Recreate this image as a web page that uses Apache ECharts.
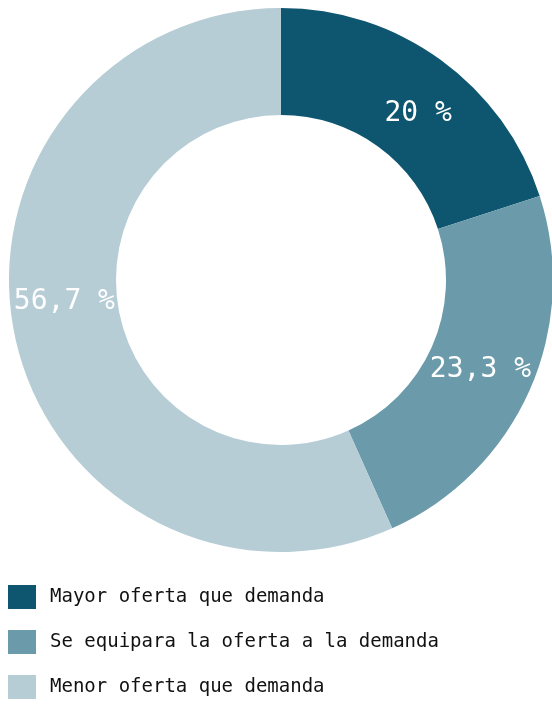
<!DOCTYPE html>
<html>
<head>
    <meta charset="utf-8">
    <title>Oferta y demanda</title>
    <script src="https://cdn.jsdelivr.net/npm/echarts@6/dist/echarts.min.js"></script>
</head>
<body style="margin:0">
<div id="container" style="width: 552px;height: 706px;"></div>

<script type="text/javascript">
    // categorias
    var names = ['Mayor oferta que demanda', 'Se equipara la oferta a la demanda', 'Menor oferta que demanda'];
    // porcentajes
    var values = [20, 23.3, 56.7];
    var colors = ['#0e566f', '#6b9bab', '#b6cdd6'];
    // pequeño ajuste de las etiquetas
    var labelOffsets = [[7, 13], [-3, 0], [0, -25]];

    var myChart = echarts.init(document.getElementById('container'));
    var fontMono = '"DejaVu Sans Mono", "Liberation Mono", monospace';

    var option = {
        animation: false,
        color: colors,
        legend: {
            orient: 'vertical',
            left: 8,
            top: 585,
            bottom: 0,
            padding: 0,
            itemWidth: 28,
            itemHeight: 24,
            itemGap: 21,
            icon: 'rect',
            data: names,
            textStyle: {
                fontFamily: fontMono,
                fontSize: 19,
                color: '#111',
                padding: [0, 0, 0, 9]
            }
        },
        series: [
            {
                type: 'pie',
                center: [281, 280],
                radius: [165, 272],
                startAngle: 90,
                clockwise: true,
                avoidLabelOverlap: false,
                label: {
                    show: true,
                    position: 'inside',
                    color: '#fff',
                    fontFamily: fontMono,
                    fontSize: 28,
                    formatter: function (p) {
                        return String(p.value).replace('.', ',') + ' %';
                    }
                },
                labelLine: {show: false},
                emphasis: {disabled: true},
                data: names.map(function (n, i) {
                    return {name: n, value: values[i], label: {offset: labelOffsets[i]}};
                })
            }
        ]
    };
    myChart.setOption(option);
</script>
</body>
</html>
